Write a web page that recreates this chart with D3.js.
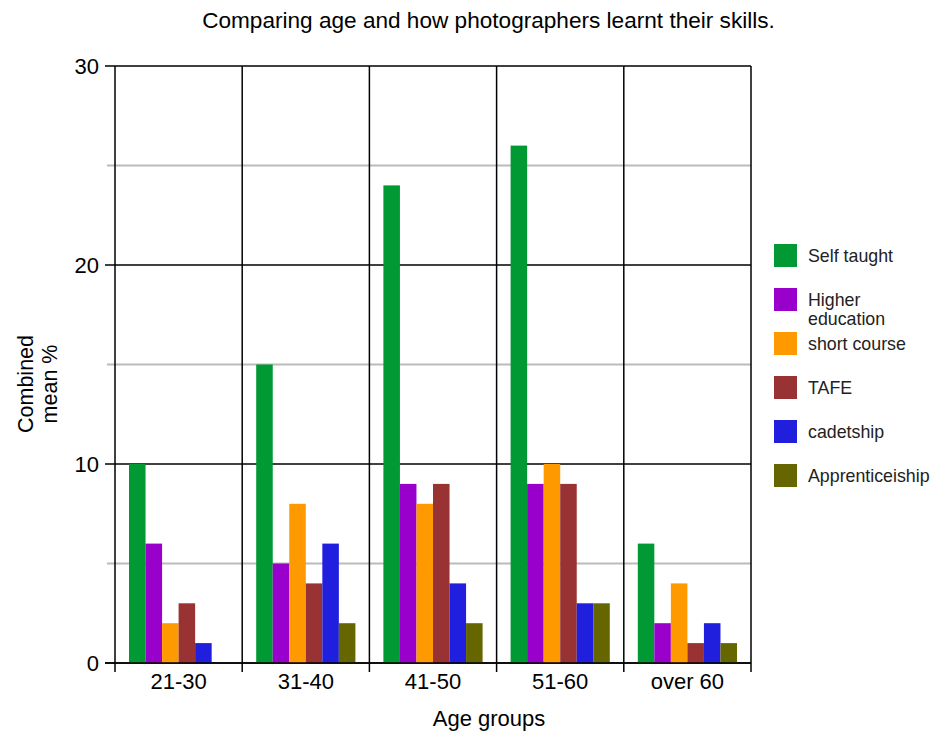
<!DOCTYPE html>
<html><head><meta charset="utf-8">
<script src="https://cdn.jsdelivr.net/npm/d3@7"></script>
<style>body{margin:0;background:#fff;font-family:"Liberation Sans",Arial,sans-serif;}</style>
</head><body><svg id="c" width="932" height="736"></svg>
<script>
const categories = ["21-30","31-40","41-50","51-60","over 60"];
const seriesNames = ["Self taught","Higher education","short course","TAFE","cadetship","Apprenticeiship"];
const selfTaught      = [10,15,24,26,6];
const higherEducation = [6,5,9,9,2];
const shortCourse     = [2,8,8,10,4];
const tafe            = [3,4,9,9,1];
const cadetship       = [1,6,4,3,2];
const apprenticeship  = [0,2,2,3,1];
const seriesValues = [selfTaught,higherEducation,shortCourse,tafe,cadetship,apprenticeship];
const colors = ["#009933","#9900cc","#ff9900","#993333","#1f1fdd","#666600"];
const majorTicks = [0,10,20,30];
const minorTicks = [5,15,25];

const svg = d3.select("#c");
const L=115,R=751,T=66,B=663;
const x = d3.scaleBand().domain(categories).range([L,R]).paddingInner(0).paddingOuter(0);
const xs = d3.scaleBand().domain(seriesNames).range([14,x.bandwidth()-14]).padding(0);
const y = d3.scaleLinear().domain([0,30]).range([B,T]);

// minor gridlines
svg.append("g").selectAll("line").data(minorTicks).join("line")
  .attr("x1",L-8).attr("x2",R).attr("y1",d=>y(d)).attr("y2",d=>y(d))
  .attr("stroke","#bbb").attr("stroke-width",2);
// major gridlines
svg.append("g").selectAll("line").data(majorTicks).join("line")
  .attr("x1",L-10).attr("x2",R).attr("y1",d=>y(d)).attr("y2",d=>y(d))
  .attr("stroke","#000").attr("stroke-width",1.5);
// vertical category lines
const bounds = categories.map(c=>x(c)).concat([R]);
svg.append("g").selectAll("line").data(bounds).join("line")
  .attr("x1",d=>d).attr("x2",d=>d).attr("y1",T).attr("y2",B+9)
  .attr("stroke","#000").attr("stroke-width",1.5);

// bars
const groups = svg.append("g").selectAll("g").data(categories).join("g")
  .attr("transform",c=>`translate(${x(c)},0)`);
groups.selectAll("rect").data((c,i)=>seriesNames.map((s,j)=>({s,j,v:seriesValues[j][i]}))).join("rect")
  .attr("x",d=>xs(d.s)).attr("width",xs.bandwidth())
  .attr("y",d=>y(d.v)).attr("height",d=>B-y(d.v))
  .attr("fill",d=>colors[d.j]);

// redraw baseline over bars
svg.append("line").attr("x1",L-10).attr("x2",R).attr("y1",B).attr("y2",B).attr("stroke","#000").attr("stroke-width",1.5);

// y tick labels
svg.append("g").selectAll("text").data(majorTicks).join("text")
  .attr("x",L-16).attr("y",d=>y(d)).attr("dy","0.35em").attr("text-anchor","end")
  .attr("font-size",22).text(d=>d);
// x tick labels
svg.append("g").selectAll("text").data(categories).join("text")
  .attr("x",c=>x(c)+x.bandwidth()/2).attr("y",689).attr("text-anchor","middle")
  .attr("font-size",22).text(d=>d);

// titles
svg.append("text").attr("x",488.5).attr("y",28).attr("text-anchor","middle").attr("font-size",22.6)
  .text("Comparing age and how photographers learnt their skills.");
svg.append("text").attr("x",489).attr("y",726).attr("text-anchor","middle").attr("font-size",22).text("Age groups");
const yt = svg.append("text").attr("transform","translate(33,384) rotate(-90)").attr("text-anchor","middle").attr("font-size",21.5);
yt.append("tspan").attr("x",0).attr("dy",0).text("Combined");
yt.append("tspan").attr("x",0).attr("dy",24).text("mean %");

// legend
const legendLabels = [["Self taught"],["Higher","education"],["short course"],["TAFE"],["cadetship"],["Apprenticeiship"]];
const lg = svg.append("g").selectAll("g").data(seriesNames).join("g")
  .attr("transform",(d,i)=>`translate(774,${244+i*44})`);
lg.append("rect").attr("width",23).attr("height",23).attr("fill",(d,i)=>colors[i]);
lg.each(function(d,i){
  const t=d3.select(this).append("text").attr("font-size",17.8).attr("fill","#222");
  legendLabels[i].forEach((s,k)=>t.append("tspan").attr("x",34).attr("y",18+k*19).text(s));
});
</script></body></html>
